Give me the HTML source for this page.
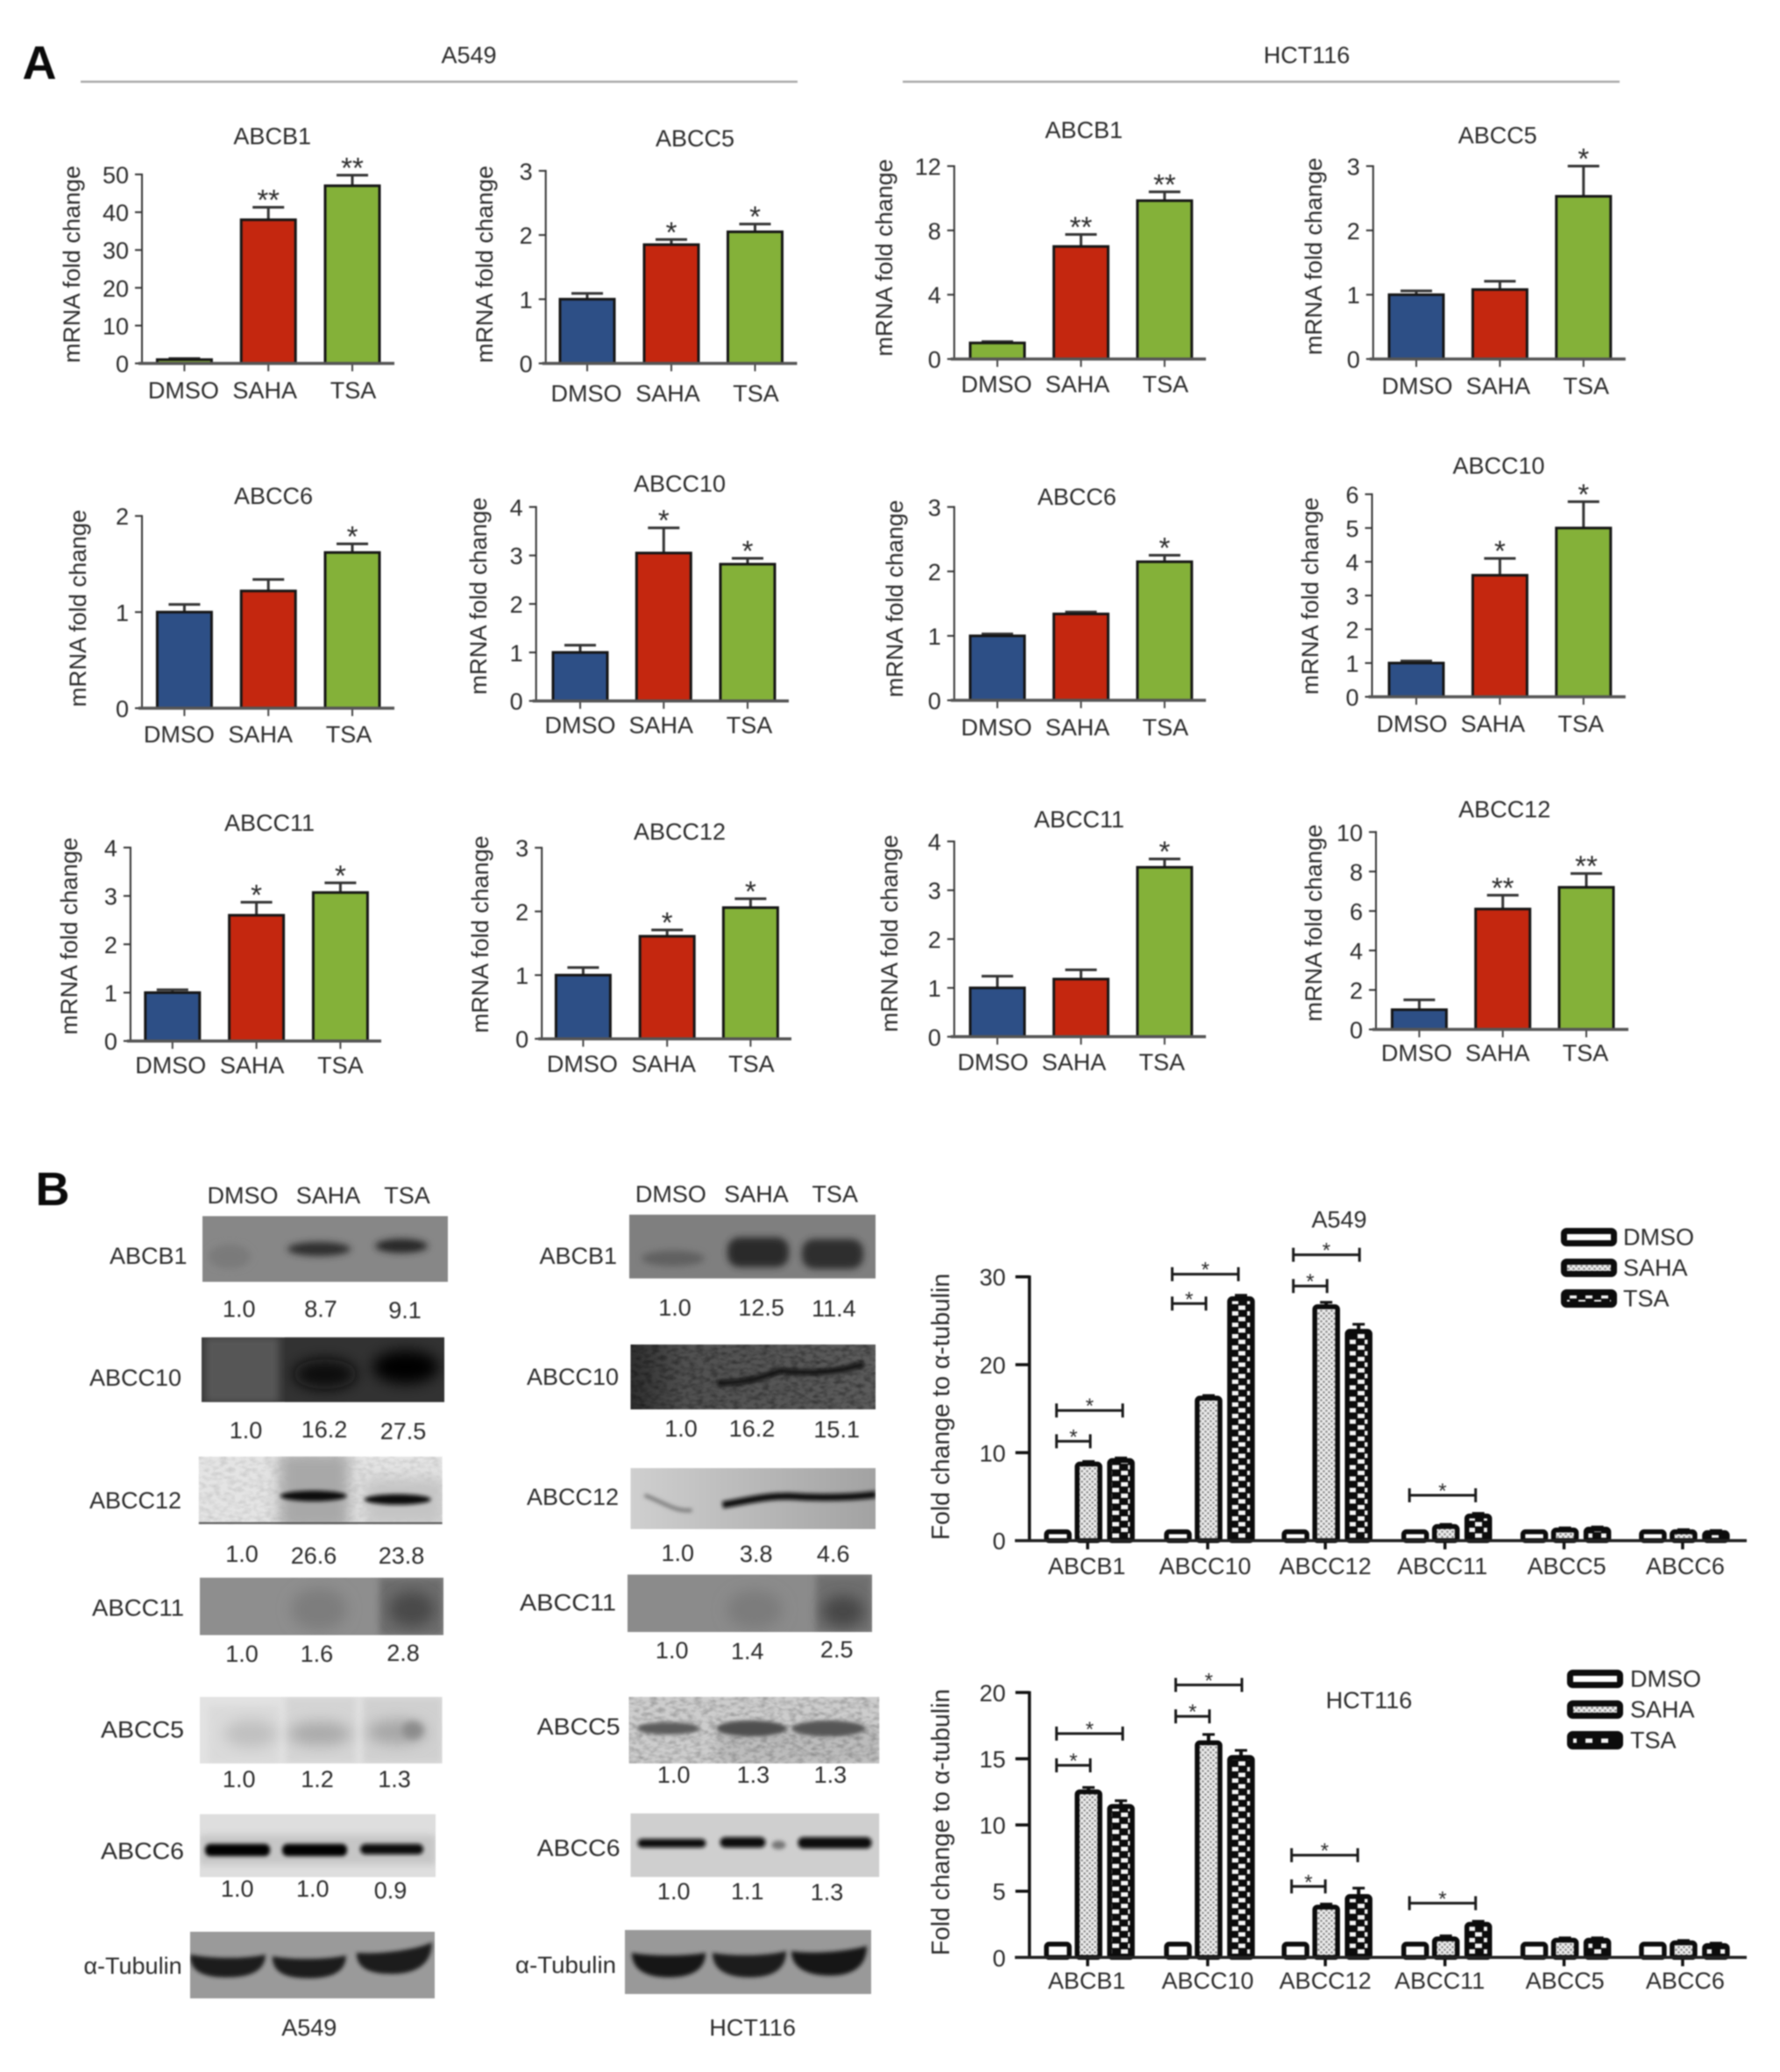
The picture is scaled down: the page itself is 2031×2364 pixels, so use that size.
<!DOCTYPE html>
<html lang="en">
<head>
<meta charset="utf-8">
<title>HDAC inhibitor effect on ABC transporters in A549 and HCT116</title>
<style>
html,body{margin:0;padding:0;background:#fff;width:2031px;height:2364px;overflow:hidden}
#figure{display:block;filter:blur(0.8px)}
text{font-family:"Liberation Sans",sans-serif;fill:#2c2c2c;font-size:27px;dominant-baseline:central}
.m{text-anchor:middle}
.e{text-anchor:end}
.star{dominant-baseline:alphabetic;text-anchor:middle}
</style>
</head>
<body>
<svg id="figure" xmlns="http://www.w3.org/2000/svg" width="2031" height="2364" viewBox="0 0 2031 2364">
<defs>
<filter id="b2" x="-30%" y="-80%" width="160%" height="260%"><feGaussianBlur stdDeviation="2"/></filter>
<filter id="b4" x="-30%" y="-80%" width="160%" height="260%"><feGaussianBlur stdDeviation="4"/></filter>
<filter id="b8" x="-40%" y="-80%" width="180%" height="260%"><feGaussianBlur stdDeviation="8"/></filter>
<filter id="grain" x="0" y="0" width="100%" height="100%"><feTurbulence type="fractalNoise" baseFrequency="0.12 0.22" numOctaves="2" seed="4"/><feColorMatrix values="0 0 0 0 0  0 0 0 0 0  0 0 0 0 0  1.6 0 0 0 -0.62"/></filter>
<pattern id="saha-pattern" width="6" height="6" patternUnits="userSpaceOnUse">
<rect width="6" height="6" fill="#ececec"/><circle cx="1.5" cy="1.5" r="1.3" fill="#8a8a8a"/><circle cx="4.5" cy="4.5" r="1.3" fill="#8a8a8a"/>
</pattern>
<pattern id="tsa-pattern" width="18" height="13" patternUnits="userSpaceOnUse">
<rect width="18" height="13" fill="#0c0c0c"/><rect x="1" y="1" width="8" height="5" fill="#f4f4f4"/><rect x="9" y="7.5" width="8" height="5" fill="#f4f4f4"/>
</pattern>
</defs>

<rect width="2031" height="2364" fill="#fff"/>

<text class="m" x="45" y="72" style="font-size:54px;font-weight:bold;fill:#0a0a0a">A</text>
<text class="m" x="60" y="1357" style="font-size:54px;font-weight:bold;fill:#0a0a0a">B</text>
<text class="m" x="535" y="63">A549</text>
<text class="m" x="1491" y="63">HCT116</text>
<line x1="92" x2="910" y1="93.3" y2="93.3" stroke="#aaa" stroke-width="2.5"/>
<line x1="1030" x2="1848" y1="93.3" y2="93.3" stroke="#aaa" stroke-width="2.5"/>

<g id="mrna-panels"></g>

<g>
<text class="m" x="277" y="1364">DMSO</text>
<text class="m" x="374.5" y="1364">SAHA</text>
<text class="m" x="464.5" y="1364">TSA</text>
<text class="m" x="765.4" y="1362.6">DMSO</text>
<text class="m" x="863" y="1362.6">SAHA</text>
<text class="m" x="952.7" y="1362.6">TSA</text>

<text class="e" x="213.5" y="1433">ABCB1</text>
<text class="e" x="207" y="1572">ABCC10</text>
<text class="e" x="207" y="1712">ABCC12</text>
<text class="e" x="210" y="1834.6" textLength="105" lengthAdjust="spacingAndGlyphs">ABCC11</text>
<text class="e" x="210" y="1973.6" textLength="95" lengthAdjust="spacingAndGlyphs">ABCC5</text>
<text class="e" x="210" y="2112" textLength="95" lengthAdjust="spacingAndGlyphs">ABCC6</text>
<text class="e" x="207.6" y="2243">α-Tubulin</text>
<text class="e" x="704" y="1433">ABCB1</text>
<text class="e" x="706" y="1571">ABCC10</text>
<text class="e" x="706" y="1708">ABCC12</text>
<text class="e" x="703" y="1828.6" textLength="110" lengthAdjust="spacingAndGlyphs">ABCC11</text>
<text class="e" x="707.6" y="1970" textLength="95" lengthAdjust="spacingAndGlyphs">ABCC5</text>
<text class="e" x="707.6" y="2108.6" textLength="95" lengthAdjust="spacingAndGlyphs">ABCC6</text>
<text class="e" x="703" y="2242" textLength="115" lengthAdjust="spacingAndGlyphs">α-Tubulin</text>

<svg x="231" y="1387.5" width="280" height="75"><rect width="280" height="75" fill="#878787"/><ellipse cx="31" cy="46" rx="24" ry="14" fill="#7a7a7a" filter="url(#b4)"/><ellipse cx="133" cy="37.5" rx="36" ry="8" fill="#2e2e2e" filter="url(#b4)"/><ellipse cx="227" cy="34" rx="30" ry="8" fill="#262626" filter="url(#b4)"/></svg>
<svg x="718" y="1385.7" width="281" height="73"><rect width="281" height="73" fill="#7f7f7f"/><ellipse cx="50" cy="50" rx="36" ry="9" fill="#606060" filter="url(#b4)"/><rect x="112" y="26" width="70" height="34" rx="14" fill="#2a2a2a" filter="url(#b4)"/><rect x="197" y="28" width="70" height="34" rx="14" fill="#2f2f2f" filter="url(#b4)"/></svg>
<svg x="230" y="1525.7" width="277" height="74"><rect width="277" height="74" fill="#363636"/><rect x="4" y="0" width="84" height="74" fill="#565656" filter="url(#b4)"/><rect x="95" y="0" width="182" height="74" fill="#323232"/><ellipse cx="141" cy="42" rx="36" ry="17" fill="#0a0a0a" filter="url(#b8)"/><ellipse cx="233" cy="34" rx="38" ry="19" fill="#000" filter="url(#b8)"/></svg>
<svg x="719.5" y="1534" width="279.5" height="74"><defs><linearGradient id="g10" x1="0" x2="1"><stop offset="0" stop-color="#2e2e2e"/><stop offset=".22" stop-color="#505050"/><stop offset="1" stop-color="#5c5c5c"/></linearGradient></defs><rect width="279.5" height="74" fill="url(#g10)"/><rect width="279.5" height="74" filter="url(#grain)" opacity=".5"/><path d="M99 44C130 44 150 38 170 30C190 32 230 35 266 22" fill="none" stroke="#0a0a0a" stroke-width="6" filter="url(#b2)"/></svg>
<svg x="226.7" y="1661.8" width="278" height="77.5"><rect width="278" height="77.5" fill="#e4e4e4"/><rect width="278" height="77.5" filter="url(#grain)" opacity=".14"/><rect x="92" y="-5" width="80" height="90" fill="#a8a8a8" filter="url(#b8)"/><rect x="190" y="25" width="90" height="55" fill="#c4c4c4" filter="url(#b8)"/><ellipse cx="131" cy="45" rx="38" ry="6" fill="#0c0c0c" filter="url(#b2)"/><ellipse cx="227" cy="49" rx="38" ry="6" fill="#111" filter="url(#b2)"/><line x1="0" x2="278" y1="76" y2="76" stroke="#555" stroke-width="2"/></svg>
<svg x="719.5" y="1675" width="279.5" height="69.6"><defs><linearGradient id="g12" x1="0" x2="1"><stop offset="0" stop-color="#cfcfcf"/><stop offset=".4" stop-color="#bdbdbd"/><stop offset="1" stop-color="#a2a2a2"/></linearGradient></defs><rect width="279.5" height="69.6" fill="url(#g12)"/><path d="M16 31C40 40 50 50 70 48" fill="none" stroke="#777" stroke-width="4" filter="url(#b2)"/><path d="M105 42C130 38 150 32 180 32C210 34 250 34 280 30" fill="none" stroke="#111" stroke-width="8" filter="url(#b2)"/></svg>
<svg x="228" y="1800" width="278" height="65.5"><rect width="278" height="65.5" fill="#8e8e8e"/><ellipse cx="136" cy="36" rx="32" ry="24" fill="#7d7d7d" filter="url(#b8)"/><rect x="205" y="0" width="73" height="66" fill="#6c6c6c" filter="url(#b4)"/><ellipse cx="242" cy="36" rx="26" ry="20" fill="#4a4a4a" filter="url(#b8)"/></svg>
<svg x="716" y="1796.4" width="279" height="65.6"><rect width="279" height="65.6" fill="#8b8b8b"/><ellipse cx="145" cy="40" rx="32" ry="22" fill="#7b7b7b" filter="url(#b8)"/><rect x="215" y="0" width="64" height="66" fill="#6e6e6e" filter="url(#b4)"/><ellipse cx="246" cy="42" rx="24" ry="18" fill="#464646" filter="url(#b8)"/></svg>
<svg x="228" y="1936" width="276.6" height="76"><rect width="276.6" height="76" fill="#e2e2e2"/><rect x="10" y="10" width="80" height="66" fill="#dadada" filter="url(#b4)"/><rect x="98" y="0" width="80" height="76" fill="#d4d4d4" filter="url(#b4)"/><rect x="186" y="0" width="91" height="76" fill="#d0d0d0" filter="url(#b4)"/><ellipse cx="58" cy="42" rx="30" ry="16" fill="#c0c0c0" filter="url(#b8)"/><ellipse cx="137" cy="42" rx="36" ry="14" fill="#aaa" filter="url(#b8)"/><ellipse cx="225" cy="40" rx="34" ry="14" fill="#a6a6a6" filter="url(#b8)"/><ellipse cx="243" cy="38" rx="12" ry="10" fill="#8c8c8c" filter="url(#b4)"/></svg>
<svg x="717.5" y="1936" width="285.8" height="76"><rect width="285.8" height="76" fill="#cdcdcd"/><rect x="100" y="36" width="186" height="40" fill="#bcbcbc" filter="url(#b4)"/><rect width="285.8" height="76" filter="url(#grain)" opacity=".3"/><ellipse cx="45" cy="36" rx="36" ry="7" fill="#5c5c5c" filter="url(#b2)"/><ellipse cx="140" cy="36" rx="40" ry="9" fill="#505050" filter="url(#b2)"/><ellipse cx="228" cy="36" rx="42" ry="9" fill="#565656" filter="url(#b2)"/></svg>
<svg x="228" y="2069.7" width="269" height="72"><rect width="269" height="72" fill="#dedede"/><rect x="0" y="24" width="269" height="34" fill="#c6c6c6" filter="url(#b4)"/><rect x="6" y="34" width="74" height="14" rx="6" fill="#060606" filter="url(#b2)"/><rect x="94" y="34" width="74" height="14" rx="6" fill="#060606" filter="url(#b2)"/><rect x="183" y="34" width="72" height="12" rx="6" fill="#0a0a0a" filter="url(#b2)"/></svg>
<svg x="719.5" y="2069" width="283.8" height="72.5"><rect width="283.8" height="72.5" fill="#cfcfcf"/><rect x="8" y="29" width="78" height="10" rx="5" fill="#111" filter="url(#b2)"/><rect x="102" y="27" width="52" height="12" rx="6" fill="#0c0c0c" filter="url(#b2)"/><ellipse cx="169" cy="36" rx="8" ry="5" fill="#777" filter="url(#b2)"/><rect x="191" y="27" width="84" height="13" rx="6" fill="#080808" filter="url(#b2)"/></svg>
<svg x="216.8" y="2204" width="279.2" height="76"><rect width="279.2" height="76" fill="#9a9a9a"/><path d="M0 26C20 30 60 32 86 26C86 44 70 52 42 52C16 52 0 46 0 26Z" fill="#1a1a1a" filter="url(#b2)"/><path d="M94 28C115 32 155 32 178 27C178 44 165 53 135 53C108 53 94 46 94 28Z" fill="#1e1e1e" filter="url(#b2)"/><path d="M190 24C220 26 260 20 276 12C276 34 262 48 230 48C205 48 190 42 190 24Z" fill="#1a1a1a" filter="url(#b2)"/></svg>
<svg x="713" y="2202" width="281" height="73"><rect width="281" height="73" fill="#999"/><path d="M8 26C30 30 70 30 92 26C92 44 78 54 50 54C22 54 8 44 8 26Z" fill="#161616" filter="url(#b2)"/><path d="M100 26C122 30 162 30 184 24C184 44 170 54 142 54C114 54 100 44 100 26Z" fill="#1a1a1a" filter="url(#b2)"/><path d="M190 24C215 28 258 24 276 18C276 40 262 52 234 52C206 52 190 42 190 24Z" fill="#181818" filter="url(#b2)"/></svg>

<text class="m" x="272.7" y="1493.6">1.0</text>
<text class="m" x="366" y="1493.6">8.7</text>
<text class="m" x="462" y="1495">9.1</text>
<text class="m" x="770" y="1492">1.0</text>
<text class="m" x="868.6" y="1492">12.5</text>
<text class="m" x="951.4" y="1493">11.4</text>
<text class="m" x="280.5" y="1632">1.0</text>
<text class="m" x="370" y="1631">16.2</text>
<text class="m" x="460" y="1633">27.5</text>
<text class="m" x="777" y="1630">1.0</text>
<text class="m" x="858" y="1630">16.2</text>
<text class="m" x="954.7" y="1631">15.1</text>
<text class="m" x="276" y="1773">1.0</text>
<text class="m" x="358" y="1775">26.6</text>
<text class="m" x="458" y="1775">23.8</text>
<text class="m" x="773.3" y="1772">1.0</text>
<text class="m" x="862.7" y="1773">3.8</text>
<text class="m" x="950.7" y="1773">4.6</text>
<text class="m" x="276" y="1887">1.0</text>
<text class="m" x="361.4" y="1887">1.6</text>
<text class="m" x="460" y="1886">2.8</text>
<text class="m" x="766.7" y="1883">1.0</text>
<text class="m" x="852.8" y="1884">1.4</text>
<text class="m" x="954.7" y="1882">2.5</text>
<text class="m" x="272.7" y="2030">1.0</text>
<text class="m" x="362" y="2030">1.2</text>
<text class="m" x="450" y="2030">1.3</text>
<text class="m" x="768.7" y="2025">1.0</text>
<text class="m" x="859.4" y="2025">1.3</text>
<text class="m" x="947.4" y="2025">1.3</text>
<text class="m" x="270.7" y="2155">1.0</text>
<text class="m" x="356.8" y="2155">1.0</text>
<text class="m" x="445.5" y="2157">0.9</text>
<text class="m" x="768.7" y="2158">1.0</text>
<text class="m" x="852.8" y="2158">1.1</text>
<text class="m" x="943.5" y="2159">1.3</text>
<text class="m" x="352.8" y="2313.5">A549</text>
<text class="m" x="858.7" y="2313.5">HCT116</text>
</g>

<g id="density-charts"></g>
</svg>

<script>
// ---------- Panel A data ----------
const treatments = ['DMSO', 'SAHA', 'TSA'];

const a549Abcb1Values = [1, 38, 47];
const a549Abcb1Errors = [0.3, 3.3, 2.8];
const a549Abcb1Ticks = [0, 10, 20, 30, 40, 50];
const a549Abcb1Sig = ['', '**', '**'];

const a549Abcc5Values = [1, 1.85, 2.05];
const a549Abcc5Errors = [0.09, 0.08, 0.12];
const a549Abcc5Ticks = [0, 1, 2, 3];
const a549Abcc5Sig = ['', '*', '*'];

const hctAbcb1Values = [1, 7, 9.85];
const hctAbcb1Errors = [0.08, 0.75, 0.55];
const hctAbcb1Ticks = [0, 4, 8, 12];
const hctAbcb1Sig = ['', '**', '**'];

const hctAbcc5Values = [1, 1.08, 2.53];
const hctAbcc5Errors = [0.06, 0.13, 0.47];
const hctAbcc5Ticks = [0, 1, 2, 3];
const hctAbcc5Sig = ['', '', '*'];

const a549Abcc6Values = [1, 1.22, 1.62];
const a549Abcc6Errors = [0.08, 0.12, 0.09];
const a549Abcc6Ticks = [0, 1, 2];
const a549Abcc6Sig = ['', '', '*'];

const a549Abcc10Values = [1, 3.05, 2.82];
const a549Abcc10Errors = [0.15, 0.52, 0.12];
const a549Abcc10Ticks = [0, 1, 2, 3, 4];
const a549Abcc10Sig = ['', '*', '*'];

const hctAbcc6Values = [1, 1.34, 2.15];
const hctAbcc6Errors = [0.03, 0.03, 0.1];
const hctAbcc6Ticks = [0, 1, 2, 3];
const hctAbcc6Sig = ['', '', '*'];

const hctAbcc10Values = [1, 3.6, 5];
const hctAbcc10Errors = [0.06, 0.5, 0.78];
const hctAbcc10Ticks = [0, 1, 2, 3, 4, 5, 6];
const hctAbcc10Sig = ['', '*', '*'];

const a549Abcc11Values = [1, 2.6, 3.07];
const a549Abcc11Errors = [0.06, 0.27, 0.2];
const a549Abcc11Ticks = [0, 1, 2, 3, 4];
const a549Abcc11Sig = ['', '*', '*'];

const a549Abcc12Values = [1, 1.61, 2.06];
const a549Abcc12Errors = [0.12, 0.1, 0.14];
const a549Abcc12Ticks = [0, 1, 2, 3];
const a549Abcc12Sig = ['', '*', '*'];

const hctAbcc11Values = [1, 1.18, 3.47];
const hctAbcc11Errors = [0.24, 0.19, 0.17];
const hctAbcc11Ticks = [0, 1, 2, 3, 4];
const hctAbcc11Sig = ['', '', '*'];

const hctAbcc12Values = [1, 6.1, 7.2];
const hctAbcc12Errors = [0.5, 0.7, 0.7];
const hctAbcc12Ticks = [0, 2, 4, 6, 8, 10];
const hctAbcc12Sig = ['', '**', '**'];

// ---------- Panel B data ----------
const genes = ['ABCB1', 'ABCC10', 'ABCC12', 'ABCC11', 'ABCC5', 'ABCC6'];

const a549DensityDmso = [1, 1, 1, 1, 1, 1];
const a549DensitySaha = [8.7, 16.2, 26.6, 1.6, 1.2, 1];
const a549DensityTsa = [9.1, 27.5, 23.8, 2.8, 1.3, 0.9];
const a549DensitySahaErr = [0.1, 0.1, 0.3, 0.05, 0.05, 0.05];
const a549DensityTsaErr = [0.1, 0.2, 0.6, 0.1, 0.05, 0.05];
const a549DensityTicks = [0, 10, 20, 30];
const a549BracketGenes = [0, 0, 1, 1, 2, 2, 3];
const a549BracketEnds = [1, 2, 1, 2, 1, 2, 2];
const a549BracketLevels = [11.3, 14.8, 26.95, 30.3, 28.95, 32.5, 5.15];

const hctDensityDmso = [1, 1, 1, 1, 1, 1];
const hctDensitySaha = [12.5, 16.2, 3.8, 1.4, 1.3, 1.1];
const hctDensityTsa = [11.4, 15.1, 4.6, 2.5, 1.3, 0.9];
const hctDensitySahaErr = [0.2, 0.5, 0.1, 0.1, 0.05, 0.05];
const hctDensityTsaErr = [0.3, 0.4, 0.5, 0.1, 0.05, 0.05];
const hctDensityTicks = [0, 5, 10, 15, 20];
const hctBracketGenes = [0, 0, 1, 1, 2, 2, 3];
const hctBracketEnds = [1, 2, 1, 2, 1, 2, 2];
const hctBracketLevels = [14.5, 16.9, 18.2, 20.57, 5.36, 7.72, 4.1];

const BLUE = '#2d4f86', RED = '#c4270f', GREEN = '#84b139';
const NS = 'http://www.w3.org/2000/svg';

function mk(tag, attrs, parent, txt) {
  const n = document.createElementNS(NS, tag);
  for (const k in attrs) n.setAttribute(k, attrs[k]);
  if (txt !== undefined) n.textContent = txt;
  parent.appendChild(n);
  return n;
}

// Layout of each mRNA panel (pixel geometry lives here, values in the arrays above)
const mrnaPanels = [
  {key:'a549-abcb1', title:'ABCB1', v:a549Abcb1Values, e:a549Abcb1Errors, t:a549Abcb1Ticks, s:a549Abcb1Sig, ax:162, xEnd:450, y0:414.6, yTop:199, cx:[210.4,306.2,402], lab:31, dx:-1, tx:310.7, ty:155.7, lx:82, ly:301.6, first:GREEN},
  {key:'a549-abcc5', title:'ABCC5', v:a549Abcc5Values, e:a549Abcc5Errors, t:a549Abcc5Ticks, s:a549Abcc5Sig, ax:622.7, xEnd:909.5, y0:414.6, yTop:194.9, cx:[670,766,861.5], lab:34.5, dx:-1, tx:793, ty:158, lx:553, ly:301.6, first:BLUE},
  {key:'hct116-abcb1', title:'ABCB1', v:hctAbcb1Values, e:hctAbcb1Errors, t:hctAbcb1Ticks, s:hctAbcb1Sig, ax:1088.8, xEnd:1376, y0:409.6, yTop:189.5, cx:[1138,1233.4,1328.8], lab:29, dx:-1, tx:1236.7, ty:148.4, lx:1009, ly:294, first:GREEN},
  {key:'hct116-abcc5', title:'ABCC5', v:hctAbcc5Values, e:hctAbcc5Errors, t:hctAbcc5Ticks, s:hctAbcc5Sig, ax:1566.8, xEnd:1854.8, y0:409.6, yTop:189.5, cx:[1616,1711.4,1806.8], lab:31, dx:1, tx:1708.8, ty:154.6, lx:1499, ly:292.5, first:BLUE},
  {key:'a549-abcc6', title:'ABCC6', v:a549Abcc6Values, e:a549Abcc6Errors, t:a549Abcc6Ticks, s:a549Abcc6Sig, ax:162, xEnd:450, y0:808, yTop:588.7, cx:[210.4,306.2,402], lab:30, dx:-6, tx:312, ty:566, lx:89, ly:694, first:BLUE},
  {key:'a549-abcc10', title:'ABCC10', v:a549Abcc10Values, e:a549Abcc10Errors, t:a549Abcc10Ticks, s:a549Abcc10Sig, ax:611.7, xEnd:900, y0:799.7, yTop:578.4, cx:[662,757.3,853], lab:28, dx:0, tx:775.5, ty:552, lx:546, ly:680, first:BLUE},
  {key:'hct116-abcc6', title:'ABCC6', v:hctAbcc6Values, e:hctAbcc6Errors, t:hctAbcc6Ticks, s:hctAbcc6Sig, ax:1088.8, xEnd:1376, y0:799, yTop:578.4, cx:[1138,1233.4,1328.8], lab:31, dx:-1, tx:1228.8, ty:567, lx:1021, ly:683, first:BLUE},
  {key:'hct116-abcc10', title:'ABCC10', v:hctAbcc10Values, e:hctAbcc10Errors, t:hctAbcc10Ticks, s:hctAbcc10Sig, ax:1565.5, xEnd:1854.8, y0:795, yTop:563.9, cx:[1616,1711.4,1806.8], lab:31, dx:-5, tx:1710, ty:531.5, lx:1495, ly:680, first:BLUE},
  {key:'a549-abcc11', title:'ABCC11', v:a549Abcc11Values, e:a549Abcc11Errors, t:a549Abcc11Ticks, s:a549Abcc11Sig, ax:148.9, xEnd:435, y0:1187.7, yTop:967, cx:[196.8,292.6,388.4], lab:27.6, dx:-2, tx:307.5, ty:939, lx:79, ly:1068, first:BLUE},
  {key:'a549-abcc12', title:'ABCC12', v:a549Abcc12Values, e:a549Abcc12Errors, t:a549Abcc12Ticks, s:a549Abcc12Sig, ax:618.2, xEnd:903, y0:1185.2, yTop:967.2, cx:[665.4,761.2,856.4], lab:28.8, dx:-1, tx:775.5, ty:949, lx:548, ly:1066, first:BLUE},
  {key:'hct116-abcc11', title:'ABCC11', v:hctAbcc11Values, e:hctAbcc11Errors, t:hctAbcc11Ticks, s:hctAbcc11Sig, ax:1088.8, xEnd:1376, y0:1182.8, yTop:960, cx:[1138,1233.4,1328.8], lab:29, dx:-5, tx:1231.4, ty:934.8, lx:1015, ly:1065, first:BLUE},
  {key:'hct116-abcc12', title:'ABCC12', v:hctAbcc12Values, e:hctAbcc12Errors, t:hctAbcc12Ticks, s:hctAbcc12Sig, ax:1570, xEnd:1858, y0:1174.5, yTop:949.3, cx:[1619.4,1714.7,1810], lab:27, dx:-3, tx:1716.7, ty:923.6, lx:1499, ly:1053, first:BLUE}
];

const mrnaRoot = document.getElementById('mrna-panels');
const labelNudge = [0, -3, 2];

mrnaPanels.forEach(function (p) {
  const g = mk('g', {}, mrnaRoot);
  
  
  const yMax = p.t[p.t.length - 1];
  const y = function (val) { return p.y0 - (val / yMax) * (p.y0 - p.yTop); };

  const title = mk('text', {class:'m', x:p.tx, y:p.ty}, g, p.title);
  
  

  const yl = mk('text', {class:'m', x:p.lx, y:p.ly, transform:'rotate(-90 ' + p.lx + ' ' + p.ly + ')'}, g, 'mRNA fold change');
  
  

  p.t.forEach(function (tv) {
    const tick = mk('line', {x1:p.ax - 8, x2:p.ax, y1:y(tv), y2:y(tv), stroke:'#333', 'stroke-width':2}, g);
    
    
    const lab = mk('text', {class:'e', x:p.ax - 15, y:y(tv) + 1}, g, String(tv));
    
    
  });

  treatments.forEach(function (name, i) {
    const val = p.v[i], err = p.e[i], c = p.cx[i];
    const top = y(val), errTop = y(val + err);
    const stem = mk('line', {x1:c, x2:c, y1:top, y2:errTop, stroke:'#333', 'stroke-width':3}, g);
    
    
    const cap = mk('line', {x1:c - 18, x2:c + 18, y1:errTop, y2:errTop, stroke:'#333', 'stroke-width':3}, g);
    
    
    const fill = i === 0 ? p.first : (i === 1 ? RED : GREEN);
    const bar = mk('rect', {x:c - 31, y:top, width:62, height:p.y0 - top, fill:fill, stroke:'#161616', 'stroke-width':3}, g);
    
    
    const tk = mk('line', {x1:c, x2:c, y1:p.y0, y2:p.y0 + 9, stroke:'#444', 'stroke-width':2}, g);
    
    
    const xl = mk('text', {class:'m', x:c + labelNudge[i] + p.dx, y:p.y0 + p.lab}, g, name);
    
    
    if (p.s[i]) {
      const st = mk('text', {class:'star', x:c, y:errTop + 3, style:'font-size:33px'}, g, p.s[i]);
      
      
    }
  });

  const yAxis = mk('line', {x1:p.ax, x2:p.ax, y1:p.yTop - 1, y2:p.y0, stroke:'#333', 'stroke-width':2}, g);
  
  
  const xAxis = mk('line', {x1:p.ax - 4, x2:p.xEnd, y1:p.y0, y2:p.y0, stroke:'#555', 'stroke-width':3.5}, g);
  
  
});

// ---------- Densitometry grouped bars ----------
const densityCharts = [
  {key:'a549', title:'A549', tx:1528, ty:1391.3, dmso:a549DensityDmso, saha:a549DensitySaha, tsa:a549DensityTsa, sahaErr:a549DensitySahaErr, tsaErr:a549DensityTsaErr, ticks:a549DensityTicks, bg:a549BracketGenes, be:a549BracketEnds, bl:a549BracketLevels, y0:1757.7, yTop:1456.7, ly:1605, labelY:1787, legendX:1781, legendText:1852, legendY:[1401,1436,1471], labelShift:[-1,-3,0,-3,3,3], bracketShift:[2,-3,1,-3,0,0]},
  {key:'hct116', title:'HCT116', tx:1562, ty:1940, dmso:hctDensityDmso, saha:hctDensitySaha, tsa:hctDensityTsa, sahaErr:hctDensitySahaErr, tsaErr:hctDensityTsaErr, ticks:hctDensityTicks, bg:hctBracketGenes, be:hctBracketEnds, bl:hctBracketLevels, y0:2233.3, yTop:1931, ly:2079, labelY:2260, legendX:1788, legendText:1860, legendY:[1905,1940,1975], labelShift:[-1,0,0,-6,1,3], bracketShift:[2,1,-1,-3,0,0]}
];
const groupCenters = [1241, 1378, 1512.2, 1648.7, 1784.6, 1919.9];
const barOffsets = [-34, 1, 38];
const seriesFills = ['#fff', 'url(#saha-pattern)', 'url(#tsa-pattern)'];
const densityRoot = document.getElementById('density-charts');

densityCharts.forEach(function (d) {
  const g = mk('g', {}, densityRoot);
  
  
  const yMax = d.ticks[d.ticks.length - 1];
  const y = function (val) { return d.y0 - (val / yMax) * (d.y0 - d.yTop); };
  const axX = 1174.6;

  const title = mk('text', {class:'m', x:d.tx, y:d.ty}, g, d.title);
  
  

  const yl = mk('text', {class:'m', x:1073, y:d.ly, transform:'rotate(-90 1073 ' + d.ly + ')', style:'font-size:28.3px'}, g, 'Fold change to α-tubulin');
  
  

  d.ticks.forEach(function (tv) {
    const tick = mk('line', {x1:axX - 16, x2:axX, y1:y(tv), y2:y(tv), stroke:'#111', 'stroke-width':3.5}, g);
    
    
    const lab = mk('text', {class:'e', x:1147.5, y:y(tv) + 1}, g, String(tv));
    
    
  });

  genes.forEach(function (gene, i) {
    const vals = [d.dmso[i], d.saha[i], d.tsa[i]];
    const errs = [0, d.sahaErr[i], d.tsaErr[i]];
    vals.forEach(function (val, s) {
      const c = groupCenters[i] + barOffsets[s];
      const top = y(val);
      if (errs[s] > 0) {
        const ey = y(val + errs[s]) - 2;
        const stem = mk('line', {x1:c, x2:c, y1:top, y2:ey, stroke:'#111', 'stroke-width':4}, g);
        
        
        const cap = mk('line', {x1:c - 7, x2:c + 7, y1:ey, y2:ey, stroke:'#111', 'stroke-width':3}, g);
        
        
      }
      const bar = mk('rect', {x:c - 13, y:top, width:26, height:d.y0 - top, rx:3, fill:seriesFills[s], stroke:'#0c0c0c', 'stroke-width':5.5}, g);
      
      
    });
    const tk = mk('line', {x1:groupCenters[i], x2:groupCenters[i], y1:d.y0, y2:d.y0 + 10, stroke:'#111', 'stroke-width':3.5}, g);
    
    
    const xl = mk('text', {class:'m', x:groupCenters[i] + d.labelShift[i], y:d.labelY}, g, gene);
    
    
  });

  d.bl.forEach(function (level, b) {
    const gi = d.bg[b];
    const gc = groupCenters[gi] + d.bracketShift[gi];
    const x1 = gc + barOffsets[0] - 3.5;
    const x2 = gc + barOffsets[d.be[b]];
    const by = y(level);
    const br = mk('path', {d:'M' + x1 + ' ' + (by - 8) + 'V' + (by + 8) + 'M' + x1 + ' ' + by + 'H' + x2 + 'M' + x2 + ' ' + (by - 8) + 'V' + (by + 8), fill:'none', stroke:'#1a1a1a', 'stroke-width':3}, g);
    
    
    const st = mk('text', {class:'star', x:(x1 + x2) / 2, y:by + 3, style:'font-size:24px'}, g, '*');
    
    
  });

  const yAxis = mk('line', {x1:axX, x2:axX, y1:d.yTop - 1.5, y2:d.y0, stroke:'#111', 'stroke-width':3.5}, g);
  
  
  const xAxis = mk('line', {x1:1158, x2:1993, y1:d.y0, y2:d.y0, stroke:'#222', 'stroke-width':3.5}, g);
  
  

  treatments.forEach(function (name, s) {
    const sw = mk('rect', {x:d.legendX + 3.5, y:d.legendY[s] + 3.5, width:57, height:14, rx:3, fill:seriesFills[s], stroke:'#0c0c0c', 'stroke-width':7}, g);
    
    
    const lt = mk('text', {x:d.legendText, y:d.legendY[s] + 10.5}, g, name);
    
    
  });
});
</script>
</body>
</html>
